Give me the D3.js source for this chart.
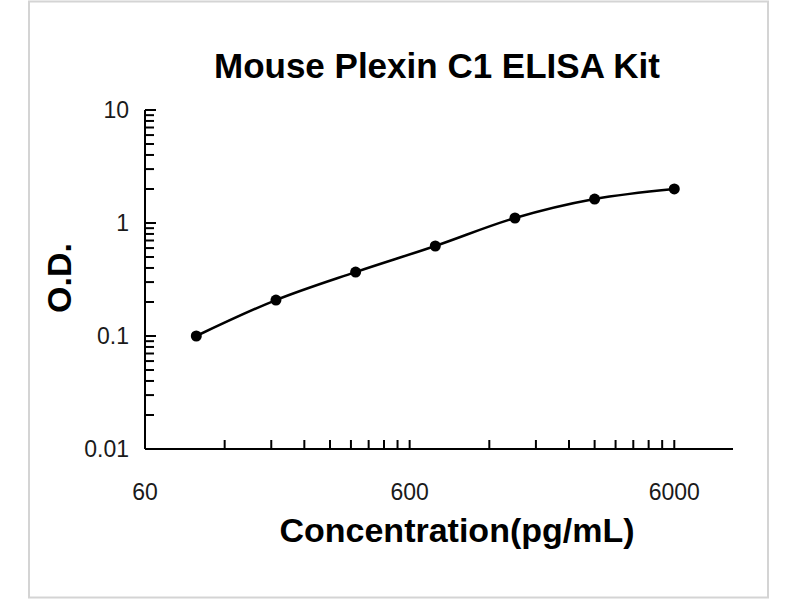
<!DOCTYPE html>
<html>
<head>
<meta charset="utf-8">
<script src="https://cdn.jsdelivr.net/npm/d3@7"></script>
<style>
  body { margin: 0; background: #fff; }
  svg { display: block; }
</style>
</head>
<body>
<svg width="800" height="600"></svg>
<script>
// standard curve data
const concentration = [93.75, 187.5, 375, 750, 1500, 3000, 6000];
const od = [0.100, 0.208, 0.368, 0.626, 1.107, 1.63, 2.0];

const xTickLabels = [60, 600, 6000];
const yTickLabels = [0.01, 0.1, 1, 10];

const svg = d3.select("svg");

// frame
svg.append("rect")
  .attr("x", 29).attr("y", 1.5)
  .attr("width", 739).attr("height", 596)
  .attr("fill", "none")
  .attr("stroke", "#d4d4d4")
  .attr("stroke-width", 2);

// scales
const x = d3.scaleLog().domain([60, 10000]).range([145, 733]);
const y = d3.scaleLog().domain([0.01, 10]).range([449, 110]);

// minor ticks: multiples of 60 on x, 1..9 per decade on y
const xMinor = [];
for (let d = 60; d < 10000; d *= 10) {
  for (let k = 2; k <= 10; k++) if (d * k < 10000) xMinor.push(d * k);
}
const yMinor = [];
for (let d = 0.01; d < 10; d *= 10) {
  for (let k = 2; k <= 9; k++) yMinor.push(d * k);
}

const axisColor = "#000";

// x axis line
svg.append("line")
  .attr("x1", x.range()[0]).attr("x2", x.range()[1])
  .attr("y1", y(0.01)).attr("y2", y(0.01))
  .attr("stroke", axisColor).attr("stroke-width", 2);

// x ticks point up into plot
svg.append("g").selectAll("line")
  .data(xMinor)
  .enter().append("line")
  .attr("x1", d => x(d)).attr("x2", d => x(d))
  .attr("y1", y(0.01)).attr("y2", y(0.01) - 9)
  .attr("stroke", axisColor).attr("stroke-width", 2);

// y axis line
svg.append("line")
  .attr("x1", x(60)).attr("x2", x(60))
  .attr("y1", y(0.01)).attr("y2", y(10))
  .attr("stroke", axisColor).attr("stroke-width", 2);

// y major ticks
svg.append("g").selectAll("line")
  .data(yTickLabels.slice(1))
  .enter().append("line")
  .attr("x1", x(60)).attr("x2", x(60) + 11)
  .attr("y1", d => y(d)).attr("y2", d => y(d))
  .attr("stroke", axisColor).attr("stroke-width", 2);

// y minor ticks
svg.append("g").selectAll("line")
  .data(yMinor)
  .enter().append("line")
  .attr("x1", x(60)).attr("x2", x(60) + 9)
  .attr("y1", d => y(d)).attr("y2", d => y(d))
  .attr("stroke", axisColor).attr("stroke-width", 2);

// tick labels
svg.append("g").selectAll("text")
  .data(xTickLabels)
  .enter().append("text")
  .attr("x", d => x(d))
  .attr("y", 500)
  .attr("text-anchor", "middle")
  .attr("font-family", "Liberation Sans, Arial, sans-serif")
  .attr("font-size", 23)
  .attr("fill", "#1a1a1a")
  .text(d => d);

svg.append("g").selectAll("text")
  .data(yTickLabels)
  .enter().append("text")
  .attr("x", 129)
  .attr("y", d => y(d) + 8)
  .attr("text-anchor", "end")
  .attr("font-family", "Liberation Sans, Arial, sans-serif")
  .attr("font-size", 23)
  .attr("fill", "#1a1a1a")
  .text(d => d);

// smooth curve through the points
const pts = concentration.map((c, i) => [x(c), y(od[i])]);
svg.append("path")
  .datum(pts)
  .attr("d", d3.line().curve(d3.curveCatmullRom.alpha(0.5)))
  .attr("fill", "none")
  .attr("stroke", "#000")
  .attr("stroke-width", 2.5);

svg.append("g").selectAll("circle")
  .data(pts)
  .enter().append("circle")
  .attr("cx", d => d[0])
  .attr("cy", d => d[1])
  .attr("r", 5.5)
  .attr("fill", "#000");

// titles
svg.append("text")
  .attr("x", 437).attr("y", 78)
  .attr("text-anchor", "middle")
  .attr("font-family", "Liberation Sans, Arial, sans-serif")
  .attr("font-weight", "bold")
  .attr("font-size", 35)
  .attr("fill", "#000")
  .text("Mouse Plexin C1 ELISA Kit");

svg.append("text")
  .attr("x", 457).attr("y", 542)
  .attr("text-anchor", "middle")
  .attr("font-family", "Liberation Sans, Arial, sans-serif")
  .attr("font-weight", "bold")
  .attr("font-size", 34)
  .attr("fill", "#000")
  .text("Concentration(pg/mL)");

svg.append("text")
  .attr("transform", "translate(71,278) rotate(-90)")
  .attr("text-anchor", "middle")
  .attr("font-family", "Liberation Sans, Arial, sans-serif")
  .attr("font-weight", "bold")
  .attr("font-size", 34)
  .attr("fill", "#000")
  .text("O.D.");
</script>
</body>
</html>
